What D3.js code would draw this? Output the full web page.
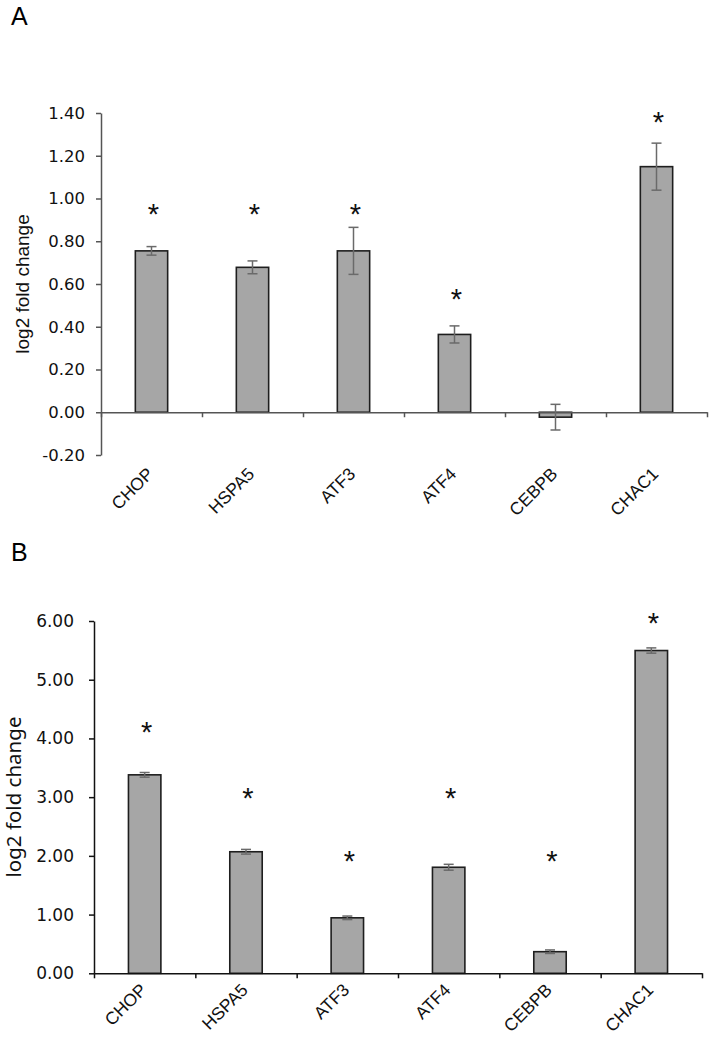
<!DOCTYPE html>
<html>
<head>
<meta charset="utf-8">
<script src="https://cdn.jsdelivr.net/npm/d3@7"></script>
<style>
  body { margin: 0; background: #fff; }
</style>
</head>
<body>
<script>
// gene names (same order in both panels)
const genes = ["CHOP", "HSPA5", "ATF3", "ATF4", "CEBPB", "CHAC1"];

// panel A
const valuesA = [0.755, 0.678, 0.755, 0.364, -0.023, 1.149];
const errorsA = [0.02, 0.03, 0.11, 0.04, 0.06, 0.11];
const starsA = [0.955, 0.955, 0.955, 0.56, null, 1.385];
const ticksA = [-0.2, 0, 0.2, 0.4, 0.6, 0.8, 1.0, 1.2, 1.4];

// panel B
const valuesB = [3.38, 2.07, 0.945, 1.806, 0.368, 5.497];
const errorsB = [0.04, 0.04, 0.03, 0.05, 0.03, 0.045];
const starsB = [4.22, 3.09, 2.02, 3.09, 2.02, 6.07];
const ticksB = [0, 1, 2, 3, 4, 5, 6];

const W = 712, H = 1039;

const svg = d3.select("body").append("svg")
    .attr("width", W)
    .attr("height", H);

function drawPanel(opt) {
    const g = svg.append("g");

    // bars take ~1/3 of each category slot, centred in it
    const xBand = d3.scaleBand()
        .domain(opt.genes)
        .range(opt.xRange)
        .paddingInner(0.68)
        .paddingOuter(0.34);

    const xIdx = d3.scaleLinear()
        .domain([0, opt.genes.length])
        .range(opt.xRange);

    const y = d3.scaleLinear()
        .domain(opt.yDomain)
        .range(opt.yRange);

    // y axis
    const yAxis = g.append("g")
        .attr("transform", "translate(" + opt.xRange[0] + ",0)")
        .call(d3.axisLeft(y)
            .tickValues(opt.ticks)
            .tickSize(5)
            .tickSizeOuter(0)
            .tickPadding(opt.tickPad)
            .tickFormat(d => d.toFixed(2)));
    yAxis.select(".domain").attr("stroke", opt.axisColor).attr("stroke-width", 1.5);
    yAxis.selectAll(".tick line").attr("stroke", opt.axisColor).attr("stroke-width", 1.5);
    yAxis.selectAll(".tick text")
        .attr("fill", "#111")
        .style("font-family", opt.tickFont)
        .style("font-size", opt.tickSize + "px");

    // bars
    const data = opt.genes.map((d, i) => ({
        gene: d, v: opt.values[i], e: opt.errors[i], s: opt.stars[i]
    }));

    g.selectAll("rect.bar")
        .data(data)
        .enter().append("rect")
        .attr("class", "bar")
        .attr("x", d => xBand(d.gene))
        .attr("width", xBand.bandwidth())
        .attr("y", d => y(Math.max(0, d.v)))
        .attr("height", d => Math.abs(y(d.v) - y(0)))
        .attr("fill", "#a6a6a6")
        .attr("stroke", "#1e1e1e")
        .attr("stroke-width", 1.6);

    // x axis at zero, ticks on category boundaries
    const xAxis = g.append("g")
        .attr("transform", "translate(0," + y(0) + ")")
        .call(d3.axisBottom(xIdx)
            .tickValues(d3.range(opt.genes.length + 1))
            .tickSize(5)
            .tickSizeOuter(0)
            .tickFormat(""));
    xAxis.select(".domain").attr("stroke", opt.axisColor).attr("stroke-width", 1.5);
    xAxis.selectAll(".tick line").attr("stroke", opt.axisColor).attr("stroke-width", 1.5);

    // error bars
    const cx = d => xBand(d.gene) + xBand.bandwidth() / 2;
    const err = g.selectAll("g.err")
        .data(data)
        .enter().append("g")
        .attr("class", "err")
        .attr("stroke", "#6a6a6a")
        .attr("stroke-width", 1.5);
    err.append("line")
        .attr("x1", cx).attr("x2", cx)
        .attr("y1", d => y(d.v + d.e))
        .attr("y2", d => y(d.v - d.e));
    err.append("line")
        .attr("x1", d => cx(d) - 5).attr("x2", d => cx(d) + 5)
        .attr("y1", d => y(d.v + d.e)).attr("y2", d => y(d.v + d.e));
    err.append("line")
        .attr("x1", d => cx(d) - 5).attr("x2", d => cx(d) + 5)
        .attr("y1", d => y(d.v - d.e)).attr("y2", d => y(d.v - d.e));

    // significance stars
    g.selectAll("text.star")
        .data(data.filter(d => d.s != null))
        .enter().append("text")
        .attr("class", "star")
        .attr("x", d => cx(d) + 2)
        .attr("y", d => y(d.s) + 16)
        .attr("text-anchor", "middle")
        .style("font-family", "Liberation Sans, Arial, sans-serif")
        .style("font-size", "29px")
        .attr("fill", "#111")
        .text("*");

    // category labels
    g.selectAll("text.cat")
        .data(data)
        .enter().append("text")
        .attr("class", "cat")
        .attr("text-anchor", "end")
        .attr("transform", d => "translate(" + (cx(d) + 3) + "," + opt.labelY + ") rotate(-45)")
        .style("font-family", "Liberation Sans, Arial, sans-serif")
        .style("font-size", "17.5px")
        .attr("fill", "#111")
        .text(d => d.gene);

    // y axis title
    g.append("text")
        .attr("transform", "translate(" + opt.titleX + "," + opt.titleY + ") rotate(-90)")
        .attr("text-anchor", "middle")
        .style("font-family", opt.titleFont)
        .style("font-size", opt.titleSize + "px")
        .attr("fill", "#111")
        .text("log2 fold change");

    // panel letter
    g.append("text")
        .attr("x", 11)
        .attr("y", opt.letterY)
        .style("font-family", "Liberation Sans, Arial, sans-serif")
        .style("font-size", "25px")
        .attr("fill", "#000")
        .text(opt.letter);
}

drawPanel({
    letter: "A", letterY: 25,
    genes: genes, values: valuesA, errors: errorsA, stars: starsA, ticks: ticksA,
    xRange: [101, 707], yDomain: [-0.2, 1.4], yRange: [455, 113],
    axisColor: "#555",
    tickFont: "DejaVu Sans, Verdana, sans-serif", tickSize: 16.5, tickPad: 11,
    titleFont: "Liberation Sans, Arial, sans-serif", titleSize: 19,
    titleX: 29, titleY: 284,
    labelY: 475
});

drawPanel({
    letter: "B", letterY: 561,
    genes: genes, values: valuesB, errors: errorsB, stars: starsB, ticks: ticksB,
    xRange: [94, 702], yDomain: [0, 6], yRange: [973.3, 621],
    axisColor: "#111",
    tickFont: "DejaVu Sans, Verdana, sans-serif", tickSize: 17, tickPad: 15,
    titleFont: "Noto Sans, Open Sans, sans-serif", titleSize: 20.5,
    titleX: 21, titleY: 797,
    labelY: 991
});
</script>
</body>
</html>
